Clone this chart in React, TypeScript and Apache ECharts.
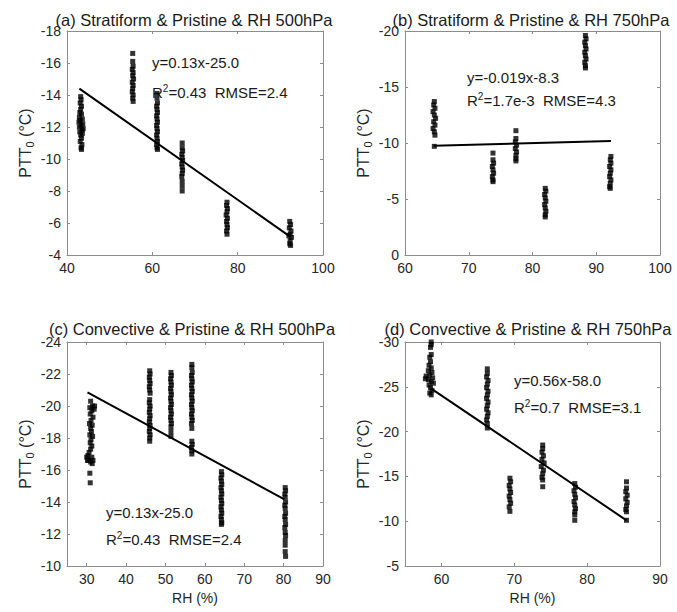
import React, { useEffect, useRef } from 'react';
import * as echarts from 'echarts';

// ---------- data ----------
// (a) Stratiform & Pristine & RH 500hPa
const stratRH500: [number, number][] = [
  [43.2,-13.9],[43.3,-13.7],[43.1,-13.5],[43.4,-13.3],[43.2,-13.1],[43.0,-12.9],[43.4,-12.8],[42.9,-12.6],[43.6,-12.5],[43.1,-12.4],[42.8,-12.3],[43.7,-12.2],[43.3,-12.1],[42.9,-12.0],[43.8,-11.9],[43.5,-11.8],[43.0,-11.7],[43.6,-11.6],[43.2,-11.5],[43.4,-11.3],[43.1,-11.1],[43.5,-10.9],[43.3,-10.7],[43.4,-10.6],
  [55.4,-16.6],[55.4,-16.1],[55.5,-15.8],[55.3,-15.6],[55.5,-15.4],[55.4,-15.2],[55.6,-15.0],[55.3,-14.8],[55.5,-14.6],[55.4,-14.4],[55.3,-14.2],[55.5,-14.0],[55.4,-13.8],[55.5,-13.6],
  [61.1,-14.1],[61.1,-13.8],[61.2,-13.5],[61.0,-13.3],[61.1,-13.1],[61.2,-12.9],[61.0,-12.7],[61.1,-12.5],[61.2,-12.3],[61.0,-12.1],[61.1,-11.9],[61.2,-11.7],[61.0,-11.5],[61.1,-11.3],[61.2,-11.1],[61.0,-10.9],[61.1,-10.7],[61.2,-10.6],
  [67.0,-11.0],[67.0,-10.7],[67.1,-10.5],[66.9,-10.3],[67.0,-10.1],[67.1,-9.9],[66.9,-9.7],[67.0,-9.5],[67.1,-9.3],[67.0,-9.1],[66.9,-8.9],[67.0,-8.6],[67.0,-8.3],[67.0,-8.0],
  [77.5,-7.3],[77.4,-7.1],[77.6,-6.9],[77.5,-6.7],[77.3,-6.5],[77.6,-6.3],[77.4,-6.1],[77.5,-5.9],[77.6,-5.7],[77.4,-5.5],[77.5,-5.3],
  [92.2,-6.1],[92.4,-5.9],[92.1,-5.7],[92.5,-5.5],[92.3,-5.3],[92.0,-5.2],[92.6,-5.1],[92.3,-4.9],[92.2,-4.7],[92.4,-4.6],
];
const fitStratRH500: [number, number][] = [[42.9, -14.4], [92.3, -5.15]];

// (b) Stratiform & Pristine & RH 750hPa
const stratRH750: [number, number][] = [
  [64.6,-13.7],[64.5,-13.4],[64.7,-13.1],[64.4,-12.8],[64.6,-12.5],[64.8,-12.2],[64.5,-11.9],[64.7,-11.6],[64.4,-11.3],[64.6,-11.0],[64.7,-10.7],[64.6,-9.7],
  [73.8,-9.1],[73.8,-8.5],[73.9,-8.2],[73.7,-7.9],[73.8,-7.6],[73.9,-7.3],[73.7,-7.0],[73.8,-6.7],[73.8,-6.55],
  [77.4,-11.1],[77.4,-10.4],[77.3,-10.1],[77.5,-9.8],[77.3,-9.5],[77.5,-9.2],[77.4,-8.9],[77.4,-8.6],[77.4,-8.4],
  [82.0,-5.95],[82.1,-5.7],[81.9,-5.4],[82.0,-5.1],[82.1,-4.8],[81.9,-4.5],[82.0,-4.2],[82.1,-3.9],[82.0,-3.6],[82.0,-3.4],
  [88.3,-19.6],[88.4,-19.3],[88.2,-19.0],[88.3,-18.7],[88.4,-18.4],[88.2,-18.1],[88.3,-17.8],[88.4,-17.5],[88.2,-17.2],[88.3,-16.9],[88.3,-16.7],
  [92.3,-8.8],[92.2,-8.5],[92.3,-8.2],[92.1,-7.9],[92.3,-7.6],[92.2,-7.3],[92.1,-7.0],[92.3,-6.7],[92.2,-6.4],[92.1,-6.1],[92.2,-5.95],
];
const fitStratRH750: [number, number][] = [[64.5, -9.75], [92.3, -10.18]];

// (c) Convective & Pristine & RH 500hPa
const convRH500: [number, number][] = [
  [31.0,-20.3],[32.0,-20.0],[31.5,-20.0],[30.8,-19.9],[31.9,-19.8],[31.3,-19.7],[30.9,-19.5],[31.6,-19.3],[31.1,-19.1],[30.7,-18.9],[31.4,-18.8],[31.0,-18.6],[31.2,-18.4],[30.8,-18.2],[31.5,-18.1],[31.1,-17.9],[30.9,-17.7],[31.3,-17.5],[31.0,-17.3],[30.6,-17.1],[30.3,-16.9],[30.0,-16.8],[31.3,-16.8],[30.5,-16.6],[31.6,-16.6],[30.2,-16.6],[31.0,-16.5],[31.4,-16.4],[30.8,-15.8],[30.9,-15.2],
  [46.0,-22.2],[46.1,-22.0],[45.9,-21.8],[46.0,-21.6],[46.1,-21.4],[45.9,-21.2],[46.0,-21.0],[46.1,-20.8],[46.0,-20.4],[45.9,-20.2],[46.1,-20.0],[46.0,-19.8],[45.9,-19.6],[46.1,-19.4],[46.0,-19.2],[45.9,-19.0],[46.1,-18.8],[46.0,-18.6],[45.9,-18.4],[46.1,-18.2],[46.0,-18.0],[46.0,-17.8],
  [51.4,-22.1],[51.5,-21.9],[51.3,-21.7],[51.4,-21.5],[51.5,-21.3],[51.3,-21.1],[51.4,-20.9],[51.5,-20.7],[51.3,-20.5],[51.4,-20.3],[51.5,-20.1],[51.3,-19.9],[51.4,-19.7],[51.5,-19.5],[51.3,-19.3],[51.4,-19.1],[51.5,-18.9],[51.4,-18.7],[51.4,-18.4],[51.4,-18.1],
  [56.7,-22.6],[56.7,-22.4],[56.8,-22.1],[56.6,-21.9],[56.7,-21.7],[56.8,-21.5],[56.6,-21.3],[56.7,-21.1],[56.8,-20.9],[56.6,-20.7],[56.7,-20.5],[56.8,-20.3],[56.6,-20.1],[56.7,-19.9],[56.8,-19.7],[56.6,-19.5],[56.7,-19.3],[56.8,-19.1],[56.6,-18.9],[56.7,-18.6],[56.7,-17.8],[56.8,-17.6],[56.6,-17.4],[56.7,-17.2],[56.7,-17.0],
  [64.2,-15.9],[64.3,-15.7],[64.1,-15.5],[64.2,-15.3],[64.3,-15.1],[64.1,-14.9],[64.2,-14.7],[64.3,-14.5],[64.1,-14.3],[64.2,-14.1],[64.3,-13.9],[64.1,-13.7],[64.2,-13.5],[64.3,-13.3],[64.1,-13.1],[64.2,-12.9],[64.3,-12.7],[64.2,-12.6],
  [80.4,-14.9],[80.5,-14.7],[80.3,-14.5],[80.4,-14.3],[80.5,-14.0],[80.3,-13.8],[80.4,-13.6],[80.5,-13.3],[80.3,-13.1],[80.4,-12.9],[80.5,-12.6],[80.3,-12.4],[80.4,-12.1],[80.5,-11.9],[80.4,-11.6],[80.4,-11.3],[80.4,-10.9],[80.5,-10.6],
];
const fitConvRH500: [number, number][] = [[30.2, -20.85], [80.2, -14.17]];

// (d) Convective & Pristine & RH 750hPa
const convRH750: [number, number][] = [
  [58.6,-30.0],[58.6,-29.7],[58.5,-29.4],[58.6,-28.6],[58.4,-28.3],[58.5,-27.8],[58.3,-27.4],[58.6,-27.1],[58.2,-26.8],[58.7,-26.6],[57.9,-26.2],[58.4,-26.3],[58.8,-26.0],[57.8,-25.9],[58.2,-25.8],[58.6,-25.6],[58.9,-25.4],[58.3,-25.2],[58.5,-24.9],[58.7,-24.6],[58.4,-24.3],[58.6,-24.1],
  [66.3,-27.0],[66.3,-26.5],[66.2,-26.1],[66.4,-25.7],[66.3,-25.3],[66.2,-24.9],[66.4,-24.5],[66.3,-24.1],[66.2,-23.7],[66.4,-23.3],[66.3,-22.9],[66.2,-22.5],[66.4,-22.1],[66.3,-21.7],[66.2,-21.3],[66.3,-20.9],[66.3,-20.4],
  [69.4,-14.8],[69.5,-14.4],[69.3,-14.0],[69.4,-13.6],[69.5,-13.2],[69.3,-12.8],[69.4,-12.4],[69.5,-12.0],[69.3,-11.6],[69.4,-11.1],
  [73.9,-18.5],[73.9,-18.1],[73.8,-17.7],[74.0,-17.3],[73.8,-16.9],[74.1,-16.5],[73.7,-16.1],[74.0,-15.7],[73.9,-15.3],[73.8,-14.9],[73.9,-14.6],[73.9,-13.85],
  [78.3,-14.2],[78.4,-13.8],[78.2,-13.4],[78.3,-13.0],[78.4,-12.6],[78.2,-12.2],[78.3,-11.8],[78.4,-11.4],[78.3,-11.05],[78.3,-10.7],[78.3,-10.1],
  [85.4,-14.4],[85.4,-13.7],[85.3,-13.3],[85.5,-12.9],[85.3,-12.5],[85.5,-12.1],[85.4,-11.7],[85.3,-11.3],[85.4,-11.05],[85.4,-10.1],
];
const fitConvRH750: [number, number][] = [[58.6, -24.8], [85.4, -10.1]];

const panelTitles = [
  '(a) Stratiform & Pristine & RH 500hPa',
  '(b) Stratiform & Pristine & RH 750hPa',
  '(c) Convective & Pristine & RH 500hPa',
  '(d) Convective & Pristine & RH 750hPa',
];
const fitEquations = ['y=0.13x-25.0', 'y=-0.019x-8.3', 'y=0.13x-25.0', 'y=0.56x-58.0'];
const fitR2 = ['0.43', '1.7e-3', '0.43', '0.7'];
const fitRMSE = ['2.4', '4.3', '2.4', '3.1'];

// axis ranges [min, max, step]
const xRanges: [number, number, number][] = [[40, 100, 20], [60, 100, 10], [25, 90, 10], [55, 90, 10]];
const yRanges: [number, number, number][] = [[-18, -4, 2], [-20, 0, 5], [-24, -10, 2], [-30, -5, 5]];
const xNames = ['', '', 'RH (%)', 'RH (%)'];

// ---------- layout ----------
const FONT = "'Liberation Sans', Arial, Helvetica, sans-serif";
const AXIS_COLOR = '#8c8c8c';
const LABEL_COLOR = '#262626';

const grids = [
  { left: 67, top: 31, width: 256, height: 224 },
  { left: 405, top: 31, width: 255, height: 224 },
  { left: 67, top: 342, width: 256, height: 224 },
  { left: 405, top: 342, width: 255, height: 224 },
];
const titlePos = [[194, 19.5], [531, 19.5], [192, 328.5], [528, 328.5]];
const eqPos = [[152, 62, 92], [467, 77, 100], [106, 512, 539], [514, 380, 407]];

const datasets = [stratRH500, stratRH750, convRH500, convRH750];
const fits = [fitStratRH500, fitStratRH750, fitConvRH500, fitConvRH750];

function App() {
  const ref = useRef<HTMLDivElement>(null);
  useEffect(() => {
    const chart = echarts.init(ref.current!, null, { renderer: 'svg' });

    const xAxes: any[] = [];
    const yAxes: any[] = [];
    const series: any[] = [];
    const graphics: any[] = [];

    for (let i = 0; i < 4; i++) {
      const [xmin, xmax, xstep] = xRanges[i];
      const aligned = xmin % xstep === 0;
      for (const pos of ['bottom', 'top']) {
        const isMain = pos === 'bottom';
        xAxes.push({
          type: 'value',
          gridIndex: i,
          position: pos,
          min: xmin,
          max: xmax,
          ...(aligned ? { interval: xstep } : { minInterval: xstep, maxInterval: xstep }),
          axisLine: { show: true, onZero: false, lineStyle: { color: AXIS_COLOR, width: 1 } },
          axisTick: { show: true, inside: true, length: 3, lineStyle: { color: AXIS_COLOR } },
          axisLabel: {
            show: isMain,
            color: LABEL_COLOR,
            fontSize: 14,
            fontFamily: FONT,
            margin: 6,
            ...(aligned ? {} : { showMinLabel: false }),
          },
          splitLine: { show: false },
          name: isMain && xNames[i] ? xNames[i] : '',
          nameLocation: 'middle',
          nameGap: 25,
          nameTextStyle: { fontSize: 14, fontFamily: FONT, color: LABEL_COLOR },
        });
      }
      const [ymin, ymax, ystep] = yRanges[i];
      for (const pos of ['left', 'right']) {
        const isMain = pos === 'left';
        yAxes.push({
          type: 'value',
          gridIndex: i,
          position: pos,
          inverse: true,
          min: ymin,
          max: ymax,
          interval: ystep,
          axisLine: { show: true, onZero: false, lineStyle: { color: AXIS_COLOR, width: 1 } },
          axisTick: { show: true, inside: true, length: 3, lineStyle: { color: AXIS_COLOR } },
          axisLabel: { show: isMain, color: LABEL_COLOR, fontSize: 14, fontFamily: FONT, margin: 6 },
          splitLine: { show: false },
          name: isMain ? '{a|PTT}{b|0}{a| (°C)}' : '',
          nameLocation: 'middle',
          nameGap: 32,
          nameTextStyle: {
            fontFamily: FONT,
            color: LABEL_COLOR,
            rich: {
              a: { fontSize: 16, fontFamily: FONT, color: LABEL_COLOR, lineHeight: 20 },
              b: { fontSize: 11, fontFamily: FONT, color: LABEL_COLOR, lineHeight: 12, verticalAlign: 'bottom' },
            },
          },
        });
      }
      series.push({
        type: 'scatter',
        xAxisIndex: 2 * i,
        yAxisIndex: 2 * i,
        data: datasets[i],
        symbol: 'rect',
        symbolSize: 5,
        itemStyle: { color: '#000' },
        silent: true,
      });
      series.push({
        type: 'line',
        xAxisIndex: 2 * i,
        yAxisIndex: 2 * i,
        data: fits[i],
        symbol: 'none',
        lineStyle: { color: '#000', width: 2 },
        silent: true,
      });

      graphics.push({
        type: 'text',
        x: titlePos[i][0],
        y: titlePos[i][1],
        style: {
          text: panelTitles[i],
          fontSize: 16.5,
          fontFamily: FONT,
          fill: '#1a1a1a',
          textAlign: 'center',
          textVerticalAlign: 'middle',
          align: 'center',
          verticalAlign: 'middle',
        },
      });
      graphics.push({
        type: 'text',
        x: eqPos[i][0],
        y: eqPos[i][1],
        style: {
          text: fitEquations[i],
          fontSize: 15,
          fontFamily: FONT,
          fill: '#1a1a1a',
          textAlign: 'left',
          textVerticalAlign: 'middle',
          align: 'left',
          verticalAlign: 'middle',
        },
      });
      graphics.push({
        type: 'text',
        x: eqPos[i][0],
        y: eqPos[i][2],
        style: {
          text: `{a|R}{s|2}{a|=${fitR2[i]}  RMSE=${fitRMSE[i]}}`,
          fontFamily: FONT,
          fill: '#1a1a1a',
          textAlign: 'left',
          textVerticalAlign: 'middle',
          align: 'left',
          verticalAlign: 'middle',
          rich: {
            a: { fontSize: 15, fontFamily: FONT, fill: '#1a1a1a', color: '#1a1a1a', lineHeight: 18 },
            s: { fontSize: 10, fontFamily: FONT, fill: '#1a1a1a', color: '#1a1a1a', lineHeight: 11, verticalAlign: 'top' },
          },
        },
      });
    }

    chart.setOption({
      animation: false,
      backgroundColor: '#ffffff',
      grid: grids.map((g) => ({ ...g, containLabel: false })),
      xAxis: xAxes,
      yAxis: yAxes,
      series,
      graphic: { elements: graphics },
    });
    return () => chart.dispose();
  }, []);
  return (
    <div
      ref={ref}
      style={{ position: 'absolute', left: 0, top: 0, width: 677, height: 612, background: '#fff' }}
    />
  );
}

export default App;
